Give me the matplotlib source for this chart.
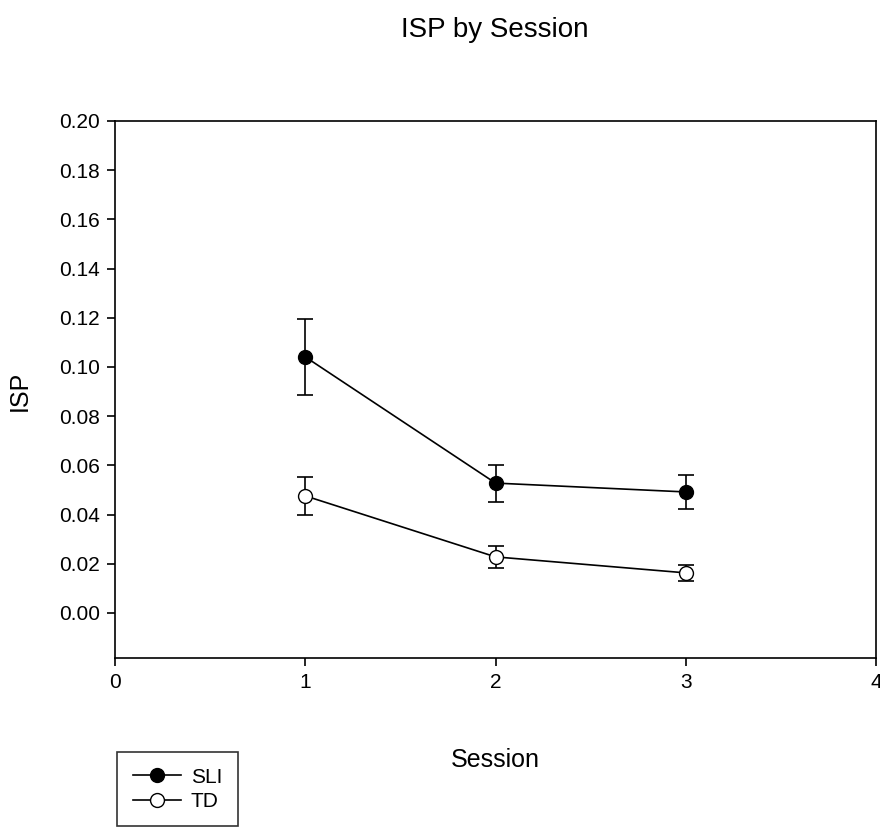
import matplotlib
matplotlib.use("Agg")
import matplotlib.pyplot as plt

plt.rcParams['font.family'] = ['Liberation Sans', 'DejaVu Sans']

sessions = [1, 2, 3]
sli_mean = [0.1041, 0.0528, 0.0492]
sli_err = [0.0153, 0.0075, 0.0069]
td_mean = [0.0476, 0.0228, 0.0163]
td_err = [0.0078, 0.0046, 0.0034]

fig = plt.figure(figsize=(8.8, 8.31), dpi=100)
ax = fig.add_axes([0.1307, 0.2082, 0.8648, 0.6462])

ax.errorbar(sessions, sli_mean, yerr=sli_err, color='black', marker='o',
            markersize=10, markerfacecolor='black', linewidth=1.2,
            capsize=6, capthick=1.2, elinewidth=1.2, label='SLI')
ax.errorbar(sessions, td_mean, yerr=td_err, color='black', marker='o',
            markersize=10, markerfacecolor='white', linewidth=1.2,
            capsize=6, capthick=1.2, elinewidth=1.2, label='TD')

ax.set_xlim(0, 4)
ax.set_ylim(-0.0183, 0.20)
ax.set_xticks([0, 1, 2, 3, 4])
ax.set_yticks([0.00, 0.02, 0.04, 0.06, 0.08, 0.10, 0.12, 0.14, 0.16, 0.18, 0.20])
ax.set_yticklabels([f"{v:.2f}" for v in ax.get_yticks()])
ax.tick_params(direction='out', length=6, width=1.2, labelsize=15, pad=5)
for side in ax.spines:
    ax.spines[side].set_linewidth(1.2)

fig.text(0.5625, 0.964, 'ISP by Session', ha='center', va='center', fontsize=20)
fig.text(0.5625, 0.085, 'Session', ha='center', va='center', fontsize=18)
fig.text(0.023, 0.53, 'ISP', ha='center', va='center', rotation=90, fontsize=18)

handles, labels = ax.get_legend_handles_labels()
handles = [h[0] for h in handles]
leg = fig.legend(handles, labels, loc='upper left',
                 bbox_to_anchor=(117 / 880, 1 - 752 / 831),
                 frameon=True, fancybox=False, fontsize=15,
                 handlelength=2.3, borderpad=0.75, labelspacing=0.25,
                 handletextpad=0.5, borderaxespad=0)
leg.get_frame().set_edgecolor('black')
leg.get_frame().set_linewidth(1.2)

fig.savefig('out.png', dpi=100)
